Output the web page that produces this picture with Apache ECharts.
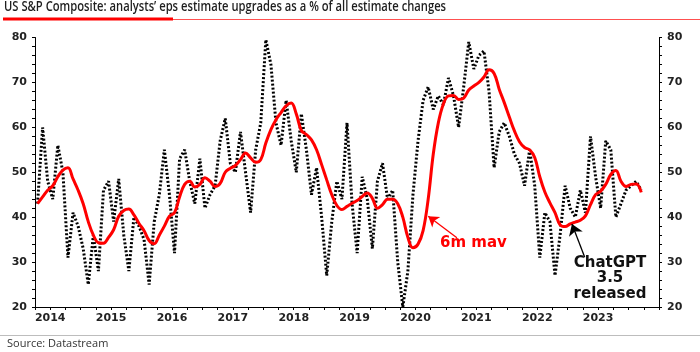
<!DOCTYPE html>
<html>
<head>
<meta charset="utf-8">
<script src="https://cdn.jsdelivr.net/npm/echarts@6/dist/echarts.min.js"></script>
<style>
  html, body { margin: 0; padding: 0; background: #fff; }
  #chart { width: 700px; height: 352px; }
</style>
</head>
<body>
<div id="chart"></div>
<script>
// monthly data, first point April 2014
var startYear = 2014, startMonth = 4;

// analysts' eps estimate upgrades as % of all changes
var upgrades = [
    43, 60, 48, 44, 56, 50, 31, 41, 38, 33, 25, 36,
    28, 46, 48, 39, 48.5, 36, 28, 40, 38, 35, 25, 39,
    45, 55, 45, 32, 53, 55, 48, 43, 53, 42, 45, 47,
    57, 62, 52, 50, 59, 50, 41, 55, 61, 79.5, 74, 61,
    56, 66, 57, 50, 63, 55, 45, 51, 40, 27, 39, 48,
    44, 61, 43, 32, 49, 44, 33, 48, 52, 44, 46, 30,
    20, 28, 45, 57, 66, 69, 64, 67, 65, 71, 67, 60,
    69, 79, 73, 76, 77, 68, 51, 59, 61, 58, 54, 52,
    47, 55, 47, 31, 41, 39, 27, 36, 47, 42, 40, 46,
    41, 58, 49, 42, 57, 55, 40, 43, 46, 47, 48, 46
];

// 6m moving average
var mav6 = [
    43, 44.5, 46, 47, 49, 50.5, 51, 48.5, 46, 43, 39, 36,
    34.3, 34.2, 35.5, 37.2, 40.2, 41.5, 41.8, 40.5, 38.6, 37, 34.8, 34.1,
    36, 38, 40.2, 41, 44.5, 47.3, 48, 46.7, 47.3, 48.8, 48, 46.8,
    47.5, 50, 50.9, 51.5, 52.8, 54.3, 53.2, 52.2, 52.8, 56.5, 59.5, 61.7,
    63.3, 64.8, 65.4, 63, 59.3, 58.4, 57.2, 55, 51.7, 48.3, 45, 42.6,
    41.7, 42.4, 43.1, 43.7, 44.6, 45.4, 44.2, 42, 42.8, 44, 44, 43,
    40, 35.5, 33.2, 34, 37, 44, 54, 61, 65.2, 67, 67.1, 66.2,
    66.5, 68.3, 69.2, 70, 71.2, 72.8, 72, 68.5, 65.5, 62.3, 59.2, 56.8,
    55.5, 55, 53.3, 49, 45.6, 43.2, 41, 38.3, 37.9, 38.5, 38.9, 39.3,
    40.3, 42.8, 45, 45.8, 47.3, 49.5, 50.4, 48, 46.8, 47.3, 47.4, 45.5
];

var yTicks = [20, 30, 40, 50, 60, 70, 80];
var lastYearLabel = 2023;

// annotation arrows in data space: [from, to]
var mavArrow = [[2021.18, 35.4], [2020.71, 40.2]];
var gptArrow = [[2023.28, 31.1], [2023.07, 38.5]];

function pairs(vals) {
    return vals.map(function (v, i) {
        var m = startMonth - 1 + i;
        return [startYear + (m + 0.5) / 12, v];
    });
}

var tickFont = { fontFamily: 'DejaVu Sans', fontWeight: 'bold', fontSize: 11, color: '#222' };

var chart = echarts.init(document.getElementById('chart'));
chart.setOption({
    backgroundColor: '#fff',
    animation: false,
    grid: { left: 35, right: 41, top: 37.5, bottom: 45 },
    xAxis: {
        type: 'value',
        min: 2014.25,
        max: 2024.5,
        interval: 0.25,
        axisLine: { lineStyle: { color: '#000', width: 1 } },
        axisTick: { length: 3, lineStyle: { color: '#000' } },
        splitLine: { show: false },
        axisLabel: Object.assign({
            margin: 6,
            formatter: function (v) {
                var y = Math.floor(v);
                return (v - y) === 0.5 && y <= lastYearLabel ? String(y) : '';
            }
        }, tickFont)
    },
    yAxis: [0, 1].map(function (k) {
        return {
            type: 'value',
            position: k ? 'right' : 'left',
            min: yTicks[0],
            max: yTicks[yTicks.length - 1],
            interval: 10,
            axisLine: { show: true, lineStyle: { color: '#000', width: 1 } },
            axisTick: { show: true, length: 3, lineStyle: { color: '#000' } },
            minorTick: { show: true, splitNumber: 5, length: 3, lineStyle: { color: '#000' } },
            splitLine: { show: false },
            axisLabel: Object.assign({ margin: 8 }, tickFont)
        };
    }),
    series: [{
        name: 'upgrades',
        type: 'line',
        data: pairs(upgrades),
        showSymbol: false,
        lineStyle: { color: '#000', width: 3, type: [2, 2] },
        z: 2,
        markLine: {
            silent: true,
            symbol: ['none', 'arrow'],
            symbolSize: 11,
            label: { show: false },
            lineStyle: { color: '#000', width: 1.3, type: 'solid' },
            data: [[{ coord: gptArrow[0] }, { coord: gptArrow[1] }]]
        }
    }, {
        name: '6m mav',
        type: 'line',
        data: pairs(mav6),
        showSymbol: false,
        smooth: 0.4,
        lineStyle: { color: '#ff0000', width: 3 },
        z: 3,
        markLine: {
            silent: true,
            symbol: ['none', 'arrow'],
            symbolSize: 10,
            label: { show: false },
            lineStyle: { color: '#ff0000', width: 1.3, type: 'solid' },
            data: [[{ coord: mavArrow[0] }, { coord: mavArrow[1] }]]
        }
    }],
    graphic: [
        // condensed look: Open Sans squeezed horizontally
        { type: 'text', x: 4, y: 0, scaleX: 0.83, style: { text: 'US S&P Composite: analysts\u2019 eps estimate upgrades as a % of all estimate changes', font: '600 13.5px "Open Sans"', fill: '#1e1e1e' } },
        { type: 'rect', shape: { x: 3, y: 17.5, width: 170, height: 3 }, style: { fill: '#ff0000' } },
        { type: 'rect', shape: { x: 173, y: 19, width: 527, height: 1 }, style: { fill: '#ff5050' } },
        { type: 'rect', shape: { x: 0, y: 335, width: 700, height: 1 }, style: { fill: '#bdbdbd' } },
        { type: 'text', x: 7, y: 338, style: { text: 'Source: Datastream', font: '11px "Open Sans"', fill: '#333' } },
        { type: 'text', x: 440, y: 243, style: { text: '6m mav', font: 'bold 15px "DejaVu Sans"', fill: '#ff0000', verticalAlign: 'middle' } },
        { type: 'text', x: 610, y: 255, style: { text: 'ChatGPT\n3.5\nreleased', font: 'bold 15px "DejaVu Sans"', fill: '#111', align: 'center', lineHeight: 15.5 } }
    ]
});
</script>
</body>
</html>
